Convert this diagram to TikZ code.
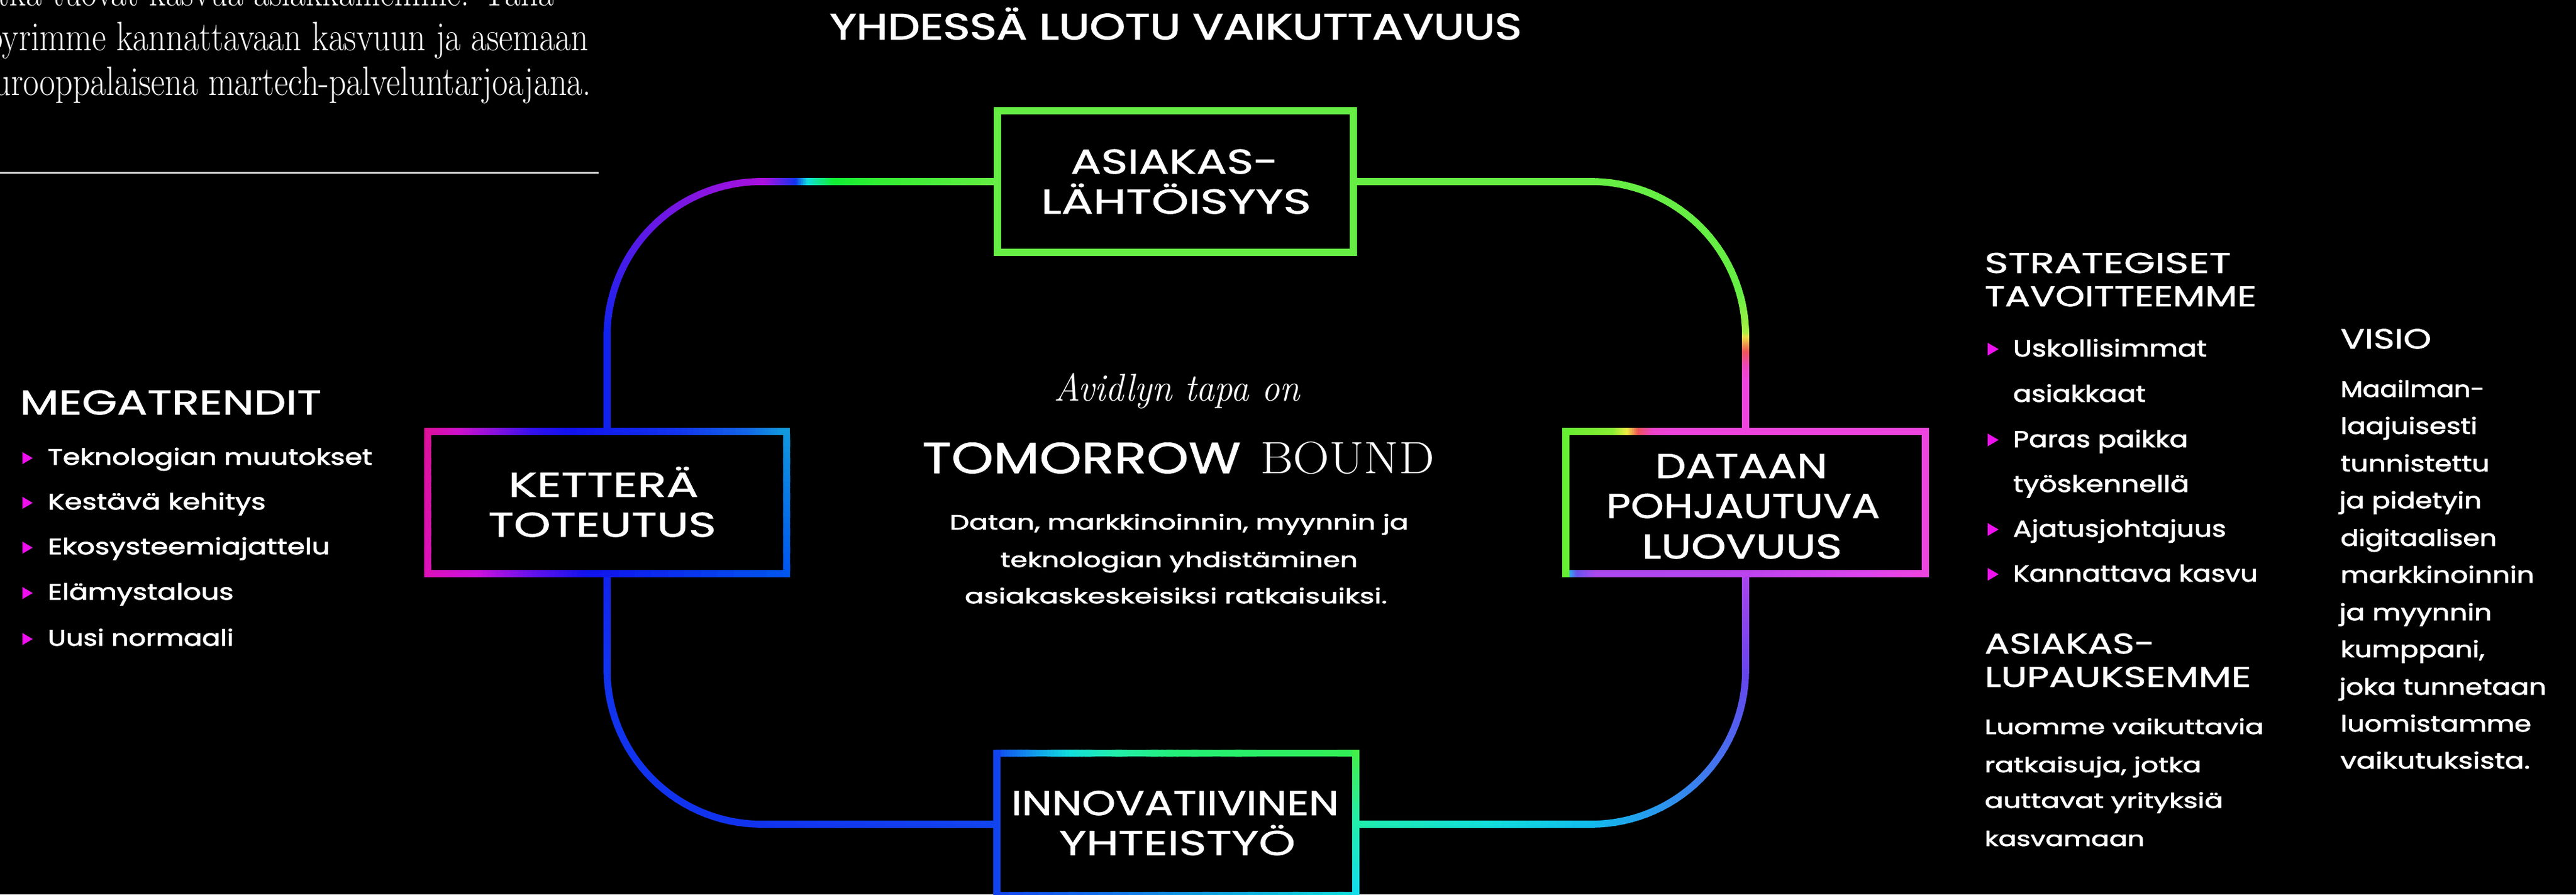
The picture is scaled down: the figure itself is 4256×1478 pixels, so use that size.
\documentclass[tikz,border=0pt]{standalone}
\usepackage{fontspec}
\usepackage{graphicx}
\usetikzlibrary{calc}
\newfontfamily\pop{Poppins}
\IfFontExistsTF{Poppins-SemiBold.otf}{\newfontfamily\popsb{Poppins-SemiBold.otf}\newfontfamily\popbody{Poppins-SemiBold.otf}[FakeBold=1.2]}{\newfontfamily\popsb{Poppins}[FakeBold=1.2]\newfontfamily\popbody{Poppins}[FakeBold=2]}
\IfFontExistsTF{Poppins-Bold.otf}{\newfontfamily\popb{Poppins-Bold.otf}}{\newfontfamily\popb{Poppins}[FakeBold=2]}
\newcommand\fsz[1]{\fontsize{#1}{#1}\selectfont}
\newcommand\fwd[2]{\resizebox{#1pt}{\height}{#2}}
% colours
\definecolor{lg}{HTML}{66EE44}
\definecolor{g2}{HTML}{33EE33}
\definecolor{g3}{HTML}{11EE33}
\definecolor{cy}{HTML}{11DDDD}
\definecolor{bl}{HTML}{1133EE}
\definecolor{bl2}{HTML}{1122EE}
\definecolor{vi}{HTML}{AA11DD}
\definecolor{vm}{HTML}{6618E6}
\definecolor{yg}{HTML}{AAEE44}
\definecolor{ye}{HTML}{EEDD44}
\definecolor{rd}{HTML}{EE5555}
\definecolor{pk}{HTML}{EE44BB}
\definecolor{mg}{HTML}{EE44DD}
\definecolor{tg}{HTML}{22EEAA}
\definecolor{cb}{HTML}{11BBEE}
\definecolor{bv}{HTML}{6644EE}
\definecolor{pu}{HTML}{AA44EE}
\definecolor{km}{HTML}{DD1199}
\definecolor{km2}{HTML}{DD11BB}
\definecolor{kp}{HTML}{CC11CC}
\definecolor{kv}{HTML}{8811DD}
\definecolor{kb}{HTML}{1111EE}
\definecolor{kb2}{HTML}{1133EE}
\definecolor{kb3}{HTML}{0055EE}
\definecolor{kb4}{HTML}{3311EE}
\definecolor{k6}{HTML}{1166E6}
\definecolor{kl}{HTML}{1199DD}
\definecolor{kpd}{HTML}{CC11DD}
\definecolor{k6e}{HTML}{6611EE}
\definecolor{dg}{HTML}{66EE33}
\definecolor{dg2}{HTML}{88EE33}
\definecolor{dy}{HTML}{EEEE44}
\definecolor{drd}{HTML}{EE5555}
\definecolor{dpk}{HTML}{EE44CC}
\definecolor{dm}{HTML}{EE44E0}
\definecolor{dcb}{HTML}{33AAEE}
\definecolor{dbv}{HTML}{6655EE}
\definecolor{dpu}{HTML}{AA48EE}
\definecolor{dpu2}{HTML}{BB44EE}
\definecolor{dm2}{HTML}{DD44EE}
\definecolor{ib}{HTML}{1144EE}
\definecolor{ib2}{HTML}{1188EE}
\definecolor{itg}{HTML}{22EEAA}
\definecolor{ig}{HTML}{22EE77}
\definecolor{ig2}{HTML}{33EE55}
\definecolor{ig3}{HTML}{44EE44}
\definecolor{icy2}{HTML}{11DDEE}
\definecolor{mag}{HTML}{EE11EE}
\definecolor{rulec}{HTML}{DDDDDD}
% gradient helpers
\newcommand\gline[5][24]{%
  \foreach \gk in {1,...,#1}{%
    \pgfmathsetmacro\gPa{(\gk-1)/#1}%
    \pgfmathsetmacro\gPb{\gk/#1}%
    \pgfmathsetmacro\gPc{(\gk-0.5)*100/#1}%
    \draw[conn, line cap=rect, draw={#5!\gPc!#4}] ($#2!\gPa!#3$) -- ($#2!\gPb!#3$);
  }}
\newcommand\garc[6]{%
  \foreach \gk in {1,...,30}{%
    \pgfmathsetmacro\gTa{#3+(#4-#3)*(\gk-1)/30}%
    \pgfmathsetmacro\gTb{#3+(#4-#3)*\gk/30}%
    \pgfmathsetmacro\gPc{(\gk-0.5)*100/30}%
    \draw[conn, line cap=round, draw={#6!\gPc!#5}] ($#1+(\gTa:#2)$) -- ($#1+(\gTb:#2)$);
  }}
\newcommand\gmulti[4]{%
  \foreach \gf/\gcol [remember=\gf as \gfp (initially 0), remember=\gcol as \gcolp (initially #3)] in {#4}{%
    \coordinate (gS) at ($#1!\gfp!#2$);
    \coordinate (gE) at ($#1!\gf!#2$);
    \gline[12]{(gS)}{(gE)}{\gcolp}{\gcol}%
  }}
\begin{document}
\begin{tikzpicture}[x=1pt,y=-1pt,
  txt/.style={text=white, inner sep=0pt, outer sep=0pt},
  conn/.style={line width=11.5pt},
  boxshape/.style={rectangle, draw=none, inner sep=0pt, outer sep=0pt, minimum width=594pt, minimum height=235pt},
  bul/.style={fill=mag}]
\useasboundingbox (0,0) rectangle (4256,1478);
\fill[black] (0,0) rectangle (4256,1478);
\clip (0,0) rectangle (4256,1478);

% ---------- boxes (frames drawn later) ----------
\node[boxshape, minimum width=588pt, minimum height=234pt] (asia) at (1942,300) {};
\node[boxshape, minimum width=593pt] (ket) at (1003,830.5) {};
\node[boxshape] (dat) at (2884,830.5) {};
\node[boxshape, minimum width=593pt] (inn) at (1943.5,1362) {};

% ---------- loop coordinates ----------
\coordinate (tlA) at (1258,300); \coordinate (tlC) at (1258,555); \coordinate (tlB) at (1003,555);
\coordinate (trA) at (2629,300); \coordinate (trC) at (2629,555); \coordinate (trB) at (2884,555);
\coordinate (blB) at (1003,1107); \coordinate (blC) at (1258,1107); \coordinate (blA) at (1258,1362);
\coordinate (brA) at (2629,1362); \coordinate (brC) at (2629,1107); \coordinate (brB) at (2884,1107);

% top-left connector
\gmulti{(asia.west)}{(tlA)}{lg}{0.51/g2, 0.71/g3, 0.82/cy, 0.87/bl, 1/vi}
\garc{(tlC)}{255}{270}{225}{vi}{vm}
\garc{(tlC)}{255}{225}{180}{vm}{bl2}
\gline{(tlB)}{(ket.north)}{bl2}{bl2}
% top-right connector
\gline{(asia.east)}{(trA)}{lg}{lg}
\garc{(trC)}{255}{270}{345}{lg}{lg}
\garc{(trC)}{255}{345}{360}{lg}{yg}
\gmulti{(trB)}{(dat.north)}{yg}{0.05/ye, 0.2/rd, 0.35/pk, 0.5/mg, 1/mg}
% bottom-left connector
\gline{(ket.south)}{(blB)}{bl2}{bl}
\garc{(blC)}{255}{180}{90}{bl}{bl}
\gline{(blA)}{(inn.west)}{bl}{ib}
% bottom-right connector
\gmulti{(inn.east)}{(brA)}{tg}{0.6/cy, 1/cb}
\garc{(brC)}{255}{90}{0}{cb}{bv}
\gline{(brB)}{(dat.south)}{bv}{pu}

% ---------- box frames ----------
\draw[lg, line width=12pt] (asia.north west) rectangle (asia.south east);
% KETTERA
\gmulti{(ket.north west)}{(ket.north east)}{km}{0.1/kp, 0.2/kv, 0.3/kb4, 0.4/kb, 0.7/kb2, 0.9/k6, 1/kl}
\gmulti{(ket.south west)}{(ket.south east)}{km2}{0.15/kpd, 0.3/k6e, 0.45/kb, 1/kb3}
\gline{(ket.north east)}{(ket.south east)}{kl}{kb3}
\gline{(ket.north west)}{(ket.south west)}{km}{km2}
% DATAAN
\gmulti{(dat.north west)}{(dat.north east)}{dg}{0.14/dg2, 0.18/dy, 0.21/drd, 0.25/dpk, 0.31/mg, 1/dm}
\gmulti{(dat.south west)}{(dat.south east)}{dg}{0.02/dcb, 0.04/dbv, 0.09/dpu, 0.5/dpu2, 0.85/dm2, 1/dm}
\gline{(dat.north east)}{(dat.south east)}{dm}{dm}
\gline{(dat.north west)}{(dat.south west)}{dg}{dg}
% INNOVATIIVINEN
\gmulti{(inn.north west)}{(inn.north east)}{ib}{0.09/ib2, 0.21/cy, 0.34/itg, 0.51/ig, 1/ig2}
\gline{(inn.south west)}{(inn.south east)}{ib}{cy}
\gmulti{(inn.north east)}{(inn.south east)}{ig3}{0.5/itg, 1/icy2}
\gline{(inn.north west)}{(inn.south west)}{ib}{ib}

% ---------- box labels ----------
\node[txt, anchor=base] (asia1) at (1940.5,287) {\popsb\fsz{57}\fwd{343}{ASIAKAS-}};
\node[txt, anchor=base] (asia2) at (1943,353) {\popsb\fsz{57}\fwd{446}{LÄHTÖISYYS}};
\node[txt, anchor=base] (ket1) at (997,821) {\popsb\fsz{57}\fwd{314}{KETTERÄ}};
\node[txt, anchor=base] (ket2) at (995,887) {\popsb\fsz{57}\fwd{376}{TOTEUTUS}};
\node[txt, anchor=base] (dat1) at (2877,790) {\popsb\fsz{57}\fwd{284}{DATAAN}};
\node[txt, anchor=base] (dat2) at (2880,856) {\popsb\fsz{57}\fwd{452}{POHJAUTUVA}};
\node[txt, anchor=base] (dat3) at (2878,923) {\popsb\fsz{57}\fwd{330}{LUOVUUS}};
\node[txt, anchor=base] (inn1) at (1941.5,1347) {\popsb\fsz{57}\fwd{541}{INNOVATIIVINEN}};
\node[txt, anchor=base] (inn2) at (1945,1413) {\popsb\fsz{57}\fwd{390}{YHTEISTYÖ}};

% ---------- title ----------
\node[txt, anchor=base] (title) at (1942.5,65) {\popb\fsz{60}\fwd{1143}{YHDESSÄ LUOTU VAIKUTTAVUUS}};

% ---------- top-left paragraph ----------
\node[txt, anchor=base east] (p1) at (915,9) {\fsz{68}\scalebox{0.83}[1]{jotka tuovat kasvua asiakkaillemme. Tällä}};
\node[txt, anchor=base east] (p2) at (972,83) {\fsz{68}\scalebox{0.83}[1]{pyrimme kannattavaan kasvuun ja asemaan}};
\node[txt, anchor=base east] (p3) at (977,157) {\fsz{68}\scalebox{0.83}[1]{eurooppalaisena martech-palveluntarjoajana.}};
\coordinate (rule1) at (0,285); \coordinate (rule2) at (989,285);
\draw[rulec, line width=3pt] (rule1) -- (rule2);

% ---------- MEGATRENDIT ----------
\node[txt, anchor=base west] (mega) at (33,685) {\popsb\fsz{57}\fwd{498}{MEGATRENDIT}};
\foreach \b in {768,842,916,991,1067} \fill[bul] (37,\b-21) -- (54,\b-11) -- (37,\b-1) -- cycle;
\node[txt, anchor=base west] (m1) at (79,768) {\popbody\fsz{37}\fwd{536}{Teknologian muutokset}};
\node[txt, anchor=base west] (m2) at (79,842) {\popbody\fsz{37}\fwd{360}{Kestävä kehitys}};
\node[txt, anchor=base west] (m3) at (79,916) {\popbody\fsz{37}\fwd{466}{Ekosysteemiajattelu}};
\node[txt, anchor=base west] (m4) at (79,991) {\popbody\fsz{37}\fwd{307}{Elämystalous}};
\node[txt, anchor=base west] (m5) at (79,1067) {\popbody\fsz{37}\fwd{307}{Uusi normaali}};

% ---------- centre ----------
\node[txt, anchor=base] (avid) at (1944.5,662) {\itshape\fsz{64}\fwd{407}{Avidlyn tapa on}};
\node[txt, anchor=base west] (tom) at (1524,782) {\popsb\fsz{72}\fwd{526}{TOMORROW}};
\node[txt, anchor=base west] (bound) at (2082,782) {\rmfamily\fsz{75}\fwd{288}{BOUND}};
\node[txt, anchor=base] (d1) at (1948,875) {\popbody\fsz{34}\fwd{758}{Datan, markkinoinnin, myynnin ja}};
\node[txt, anchor=base] (d2) at (1948,937) {\popbody\fsz{34}\fwd{590}{teknologian yhdistäminen}};
\node[txt, anchor=base] (d3) at (1943,997) {\popbody\fsz{34}\fwd{698}{asiakaskeskeisiksi ratkaisuiksi.}};

% ---------- right column ----------
\node[txt, anchor=base west] (s1) at (3279,451) {\popsb\fsz{47}\fwd{407}{STRATEGISET}};
\node[txt, anchor=base west] (s2) at (3279,506) {\popsb\fsz{47}\fwd{449}{TAVOITTEEMME}};
\foreach \b in {589,739,887,961} \fill[bul] (3284,\b-22.5) -- (3302,\b-12) -- (3284,\b-1.5) -- cycle;
\node[txt, anchor=base west] (r1) at (3326,589) {\popbody\fsz{38}\fwd{320}{Uskollisimmat}};
\node[txt, anchor=base west] (r2) at (3326,664) {\popbody\fsz{38}\fwd{219}{asiakkaat}};
\node[txt, anchor=base west] (r3) at (3326,739) {\popbody\fsz{38}\fwd{289}{Paras paikka}};
\node[txt, anchor=base west] (r4) at (3326,813) {\popbody\fsz{38}\fwd{291}{työskennellä}};
\node[txt, anchor=base west] (r5) at (3326,887) {\popbody\fsz{38}\fwd{352}{Ajatusjohtajuus}};
\node[txt, anchor=base west] (r6) at (3326,961) {\popbody\fsz{38}\fwd{404}{Kannattava kasvu}};

\node[txt, anchor=base west] (l1) at (3279,1080) {\popsb\fsz{47}\fwd{281}{ASIAKAS-}};
\node[txt, anchor=base west] (l2) at (3279,1135) {\popsb\fsz{47}\fwd{440}{LUPAUKSEMME}};
\node[txt, anchor=base west] (l3) at (3279,1213) {\popbody\fsz{34}\fwd{461}{Luomme vaikuttavia}};
\node[txt, anchor=base west] (l4) at (3279,1276) {\popbody\fsz{34}\fwd{358}{ratkaisuja, jotka}};
\node[txt, anchor=base west] (l5) at (3279,1335) {\popbody\fsz{34}\fwd{394}{auttavat yrityksiä}};
\node[txt, anchor=base west] (l6) at (3279,1398) {\popbody\fsz{34}\fwd{264}{kasvamaan}};

\node[txt, anchor=base west] (v0) at (3867,576) {\popsb\fsz{46}\fwd{150}{VISIO}};
\node[txt, anchor=base west] (v1) at (3867,656) {\popbody\fsz{37}\fwd{238}{Maailman-}};
\node[txt, anchor=base west] (v2) at (3867,717) {\popbody\fsz{37}\fwd{226}{laajuisesti}};
\node[txt, anchor=base west] (v3) at (3867,779) {\popbody\fsz{37}\fwd{246}{tunnistettu}};
\node[txt, anchor=base west] (v4) at (3865,840) {\popbody\fsz{37}\fwd{235}{ja pidetyin}};
\node[txt, anchor=base west] (v5) at (3867,902) {\popbody\fsz{37}\fwd{258}{digitaalisen}};
\node[txt, anchor=base west] (v6) at (3867,963) {\popbody\fsz{37}\fwd{320}{markkinoinnin}};
\node[txt, anchor=base west] (v7) at (3865,1025) {\popbody\fsz{37}\fwd{252}{ja myynnin}};
\node[txt, anchor=base west] (v8) at (3867,1086) {\popbody\fsz{37}\fwd{238}{kumppani,}};
\node[txt, anchor=base west] (v9) at (3865,1148) {\popbody\fsz{37}\fwd{342}{joka tunnetaan}};
\node[txt, anchor=base west] (v10) at (3867,1209) {\popbody\fsz{37}\fwd{315}{luomistamme}};
\node[txt, anchor=base west] (v11) at (3867,1270) {\popbody\fsz{37}\fwd{313}{vaikutuksista.}};
\end{tikzpicture}
\end{document}
